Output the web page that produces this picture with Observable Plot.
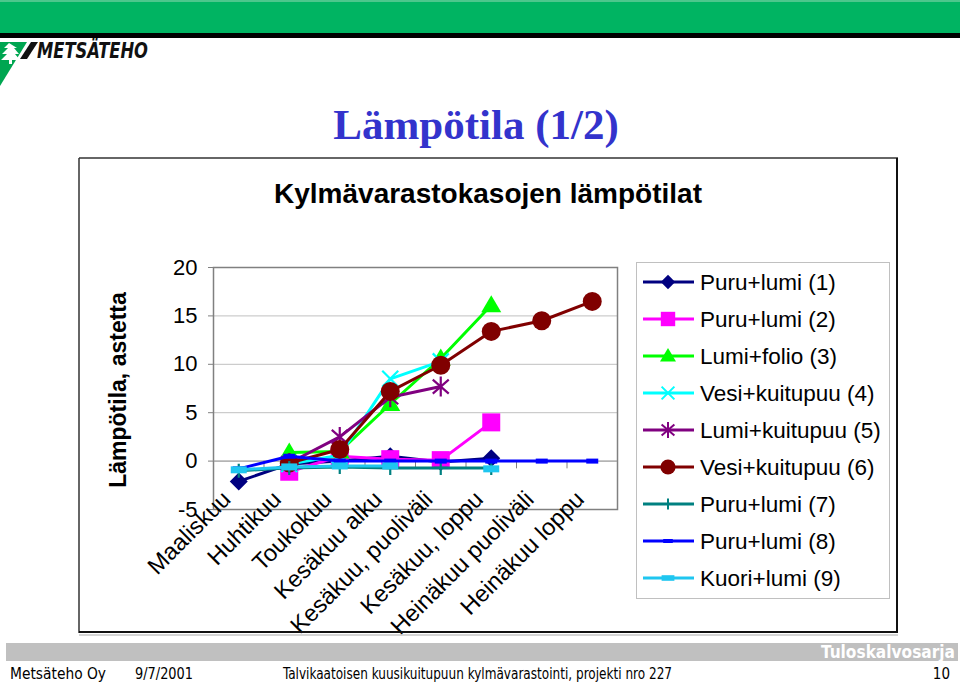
<!DOCTYPE html>
<html><head><meta charset="utf-8">
<script src="https://cdn.jsdelivr.net/npm/d3@7"></script>
<script src="https://cdn.jsdelivr.net/npm/@observablehq/plot@0.6"></script>
<style>
body{margin:0;background:#fff;}
#page{position:relative;width:960px;height:683px;overflow:hidden;font-family:"Liberation Sans",Arial,sans-serif;}
</style></head><body><div id="page"></div>
<script>
// ---- data ----
const categories = ["Maaliskuu","Huhtikuu","Toukokuu","Kesäkuu alku","Kesäkuu, puoliväli","Kesäkuu, loppu","Heinäkuu puoliväli","Heinäkuu loppu"];
const seriesNames = ["Puru+lumi (1)","Puru+lumi (2)","Lumi+folio (3)","Vesi+kuitupuu (4)","Lumi+kuitupuu (5)","Vesi+kuitupuu (6)","Puru+lumi (7)","Puru+lumi (8)","Kuori+lumi (9)"];
const puruLumi1     = [-2.1, -0.3, 0.0, 0.5, -0.1, 0.3, null, null];
const puruLumi2     = [null, -1.1, 0.5, 0.2, 0.1, 4.0, null, null];
const lumiFolio3    = [null, 0.9, 1.0, 5.9, 10.6, 16.1, null, null];
const vesiKuitu4    = [null, -0.3, 0.6, 8.5, 10.3, null, null, null];
const lumiKuitu5    = [null, -0.2, 2.5, 6.6, 7.7, null, null, null];
const vesiKuitu6    = [null, -0.2, 1.2, 7.2, 9.9, 13.4, 14.5, 16.5];
const puruLumi7     = [-1.0, -0.7, -0.6, -0.7, -0.7, -0.7, null, null];
const puruLumi8     = [-0.8, 0.5, 0.0, 0.0, 0.0, 0.0, 0.0, 0.0];
const kuoriLumi9    = [-0.9, -0.6, -0.5, -0.5, null, -0.8, null, null];
const yTicks = [-5, 0, 5, 10, 15, 20];

const seriesValues = [puruLumi1, puruLumi2, lumiFolio3, vesiKuitu4, lumiKuitu5, vesiKuitu6, puruLumi7, puruLumi8, kuoriLumi9];

// ---- styles ----
const sym = {
  diamond: {draw(c){c.moveTo(0,-9);c.lineTo(9,0);c.lineTo(0,9);c.lineTo(-9,0);c.closePath();}},
  square: {draw(c){c.rect(-9,-9,18,18);}},
  triangle: {draw(c){c.moveTo(0,-10);c.lineTo(10,7);c.lineTo(-10,7);c.closePath();}},
  times: {draw(c){c.moveTo(-8,-8);c.lineTo(8,8);c.moveTo(-8,8);c.lineTo(8,-8);}},
  asterisk: {draw(c){c.moveTo(0,-10);c.lineTo(0,10);c.moveTo(-8,-7);c.lineTo(8,7);c.moveTo(-8,7);c.lineTo(8,-7);}},
  circle: {draw(c){c.moveTo(9.5,0);c.arc(0,0,9.5,0,2*Math.PI);}},
  plus: {draw(c){c.moveTo(0,-7);c.lineTo(0,7);c.moveTo(-7,0);c.lineTo(7,0);}},
  dashS: {draw(c){c.rect(-6,-2.5,12,5);}},
  dashL: {draw(c){c.rect(-8,-3.5,16,7);}}
};
const styles = [
  {color:"#000080", symbol:sym.diamond, filled:true},
  {color:"#ff00ff", symbol:sym.square, filled:true},
  {color:"#00ff00", symbol:sym.triangle, filled:true},
  {color:"#00ffff", symbol:sym.times, filled:false},
  {color:"#800080", symbol:sym.asterisk, filled:false},
  {color:"#800000", symbol:sym.circle, filled:true},
  {color:"#008080", symbol:sym.plus, filled:false},
  {color:"#0000ff", symbol:sym.dashS, filled:true},
  {color:"#1fc6f0", symbol:sym.dashL, filled:true}
];

const rowsFor = vals => vals.map((v, i) => ({i, v: v == null ? NaN : v}));

const marks = [
  Plot.ruleY(yTicks, {stroke:"#c0c0c0", strokeWidth:1}),
  Plot.frame({stroke:"#808080", strokeWidth:1.5}),
  Plot.ruleY([0], {stroke:"#9a9a9a", strokeWidth:1}),
  Plot.ruleX(d3.range(-0.5, categories.length, 1), {y1:0, y2:-0.8, stroke:"#808080"}),
  Plot.axisY(yTicks, {tickSize:5, tickPadding:11, fontSize:22, stroke:"#808080", fill:"#000", tickFormat:d=>String(d)}),
  Plot.text(categories, {x:(d,i)=>i, y:-5, text:d=>d, rotate:-45, textAnchor:"end", lineAnchor:"middle", dx:-12, dy:-14, fontSize:23.5, fill:"#000"})
];
seriesValues.forEach((vals, k) => {
  const st = styles[k];
  const rows = rowsFor(vals);
  marks.push(Plot.line(rows, {x:"i", y:"v", stroke:st.color, strokeWidth:3}));
  marks.push(Plot.dot(rows.filter(d => !isNaN(d.v)), {x:"i", y:"v", symbol:st.symbol, r:5,
    fill: st.filled ? st.color : "none", stroke: st.filled ? "none" : st.color, strokeWidth: st.filled ? 0 : 2.2}));
});

const chart = Plot.plot({
  width:960, height:683,
  marginLeft:213, marginRight:343, marginTop:267, marginBottom:174,
  x:{type:"linear", domain:[-0.5, categories.length - 0.5], axis:null},
  y:{domain:[-5, 20], axis:null},
  style:{fontFamily:"'Liberation Sans', Arial, sans-serif", background:"transparent", overflow:"visible"},
  marks
});
const page = document.getElementById("page");
chart.style.position = "absolute"; chart.style.left = "0px"; chart.style.top = "0px";
page.appendChild(chart);

// ---- slide decoration, titles, legend, footer ----
const svg = d3.select(page).append("svg").attr("width",960).attr("height",683)
  .style("position","absolute").style("left","0px").style("top","0px").style("pointer-events","none");

// header
svg.append("rect").attr("x",0).attr("y",0).attr("width",960).attr("height",33).attr("fill","#00b462");
svg.append("rect").attr("x",0).attr("y",0).attr("width",960).attr("height",2).attr("fill","#4cc78c");
svg.append("rect").attr("x",0).attr("y",33).attr("width",960).attr("height",5).attr("fill","#000");
// logo
svg.append("path").attr("d","M0,42 L27,42 L0,86 Z").attr("fill","#00a651");
svg.append("path").attr("d","M9,43 L4,48 L8,48 L2,54 L7,54 L1,60 L9,60 L9,64 L12,64 L12,60 L20,60 L15,54 L19,54 L14,48 L17,48 Z").attr("fill","#fff");
svg.append("path").attr("d","M31,42 L38,42 L27,59 L20,59 Z").attr("fill","#111");
svg.append("text").attr("x",37).attr("y",58).attr("font-family","'Liberation Sans Narrow','DejaVu Sans Condensed','Liberation Sans',sans-serif")
  .attr("font-weight","bold").attr("font-style","italic").attr("font-size",21).attr("textLength",111).attr("lengthAdjust","spacingAndGlyphs")
  .attr("fill","#111").text("METSÄTEHO");

// title
svg.append("text").attr("x",476).attr("y",139).attr("text-anchor","middle")
  .attr("font-family","'Liberation Serif','Times New Roman',serif").attr("font-weight","bold").attr("font-size",43)
  .attr("fill","#3333cc").text("Lämpötila (1/2)");

// chart object frame
svg.append("line").attr("x1",79).attr("x2",898).attr("y1",158).attr("y2",158).attr("stroke","#333").attr("stroke-width",1.5);
svg.append("line").attr("x1",79).attr("x2",79).attr("y1",158).attr("y2",633).attr("stroke","#333").attr("stroke-width",1.5);
svg.append("line").attr("x1",897).attr("x2",897).attr("y1",158).attr("y2",633).attr("stroke","#111").attr("stroke-width",2);
svg.append("line").attr("x1",79).attr("x2",898).attr("y1",632).attr("y2",632).attr("stroke","#111").attr("stroke-width",2);
svg.append("line").attr("x1",79).attr("x2",898).attr("y1",635).attr("y2",635).attr("stroke","#aaa").attr("stroke-width",1);

// subtitle
svg.append("text").attr("x",488).attr("y",203).attr("text-anchor","middle").attr("font-weight","bold").attr("font-size",28)
  .attr("font-family","'Liberation Sans',Arial,sans-serif").attr("fill","#000").text("Kylmävarastokasojen lämpötilat");
// y label
svg.append("text").attr("transform","translate(126,390) rotate(-90)").attr("text-anchor","middle").attr("font-weight","bold").attr("font-size",23)
  .attr("font-family","'Liberation Sans',Arial,sans-serif").attr("fill","#000").text("Lämpötila, astetta");

// legend
const lg = svg.append("g").attr("font-family","'Liberation Sans',Arial,sans-serif");
lg.append("rect").attr("x",636.5).attr("y",262.5).attr("width",253).attr("height",336).attr("fill","#fff").attr("stroke","#c0c0c0");
seriesNames.forEach((name, k) => {
  const st = styles[k];
  const cy = 282 + k * 37;
  lg.append("line").attr("x1",643).attr("x2",694).attr("y1",cy).attr("y2",cy).attr("stroke",st.color).attr("stroke-width",3);
  lg.append("path").attr("d", d3.symbol(st.symbol, 64)()).attr("transform",`translate(668,${cy}) scale(0.8)`)
    .attr("fill", st.filled ? st.color : "none").attr("stroke", st.filled ? "none" : st.color).attr("stroke-width", st.filled ? 0 : 2.5);
  lg.append("text").attr("x",700).attr("y",cy).attr("dy","0.36em").attr("font-size",22.5).attr("fill","#000").text(name);
});

// footer
const narrow = "'Liberation Sans Narrow','DejaVu Sans Condensed','Liberation Sans',sans-serif";
svg.append("rect").attr("x",6).attr("y",643).attr("width",952).attr("height",18).attr("fill","#c0c0c0");
svg.append("text").attr("x",955).attr("y",658).attr("text-anchor","end").attr("font-family",narrow).attr("font-weight","bold")
  .attr("font-size",17).attr("fill","#fff").attr("textLength",134).attr("lengthAdjust","spacingAndGlyphs").text("Tuloskalvosarja");
const foot = [["Metsäteho Oy",10,96],["9/7/2001",135,58],["Talvikaatoisen kuusikuitupuun kylmävarastointi, projekti nro 227",283,389]];
foot.forEach(([t,x,w]) => svg.append("text").attr("x",x).attr("y",679).attr("font-family",narrow).attr("font-size",15)
  .attr("fill","#000").attr("textLength",w).attr("lengthAdjust","spacingAndGlyphs").text(t));
svg.append("text").attr("x",950).attr("y",679).attr("text-anchor","end").attr("font-family",narrow).attr("font-size",15).attr("fill","#000").text("10");
</script></body></html>
